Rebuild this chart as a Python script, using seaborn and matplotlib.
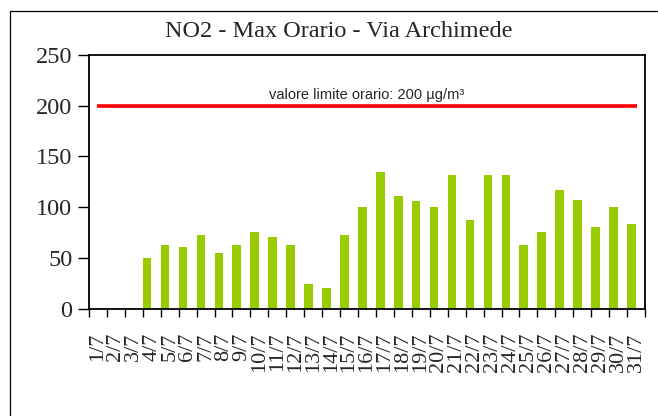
import matplotlib
matplotlib.use("Agg")
import matplotlib.pyplot as plt
from matplotlib.lines import Line2D
from matplotlib.ticker import FixedLocator
import seaborn as sns
import pandas as pd

# Daily hourly-maximum NO2 at Via Archimede (µg/m³), July
days = [f"{d}/7" for d in range(1, 32)]
no2_max = [0, 0, 0, 50, 63, 61, 72.5, 55, 63, 76, 70.5, 63, 24, 20.5, 72.5,
           100, 135, 111, 106, 100, 132, 87, 132, 132, 63, 76, 117, 107, 81, 100, 83]
limit_value = 200
limit_label = "valore limite orario: 200 µg/m³"
title = "NO2 - Max Orario - Via Archimede"
y_ticks = [0, 50, 100, 150, 200, 250]

sns.set_style("white")
plt.rcParams["font.family"] = ["Liberation Serif", "DejaVu Serif"]

W, H = 658, 416
fig = plt.figure(figsize=(W / 100, H / 100), dpi=100)
ax = fig.add_axes([89 / W, 1 - 308.7 / H, (645 - 89) / W, (308.7 - 55) / H])

df = pd.DataFrame({"giorno": days, "no2": no2_max})
BAR_W = 0.48
sns.barplot(data=df, x="giorno", y="no2", color="#99cc00", saturation=1,
            width=BAR_W, linewidth=0, ax=ax)
# bars sit on the left side of each category slot
for p in ax.patches:
    p.set_x(p.get_x() - (0.5 - BAR_W / 2))

# hourly limit line
ax.hlines(limit_value, -0.05, len(days) - 0.95, color="#ff0000", linewidth=2.6, zorder=3)
ax.text((len(days) - 1) / 2, 207, limit_label, ha="center", va="baseline",
        fontsize=10.5, family=["Liberation Sans", "DejaVu Sans"])

ax.set_xlim(-0.5, len(days) - 0.5)
ax.set_ylim(0, 250)
ax.set_yticks(y_ticks)
ax.set_xlabel("")
ax.set_ylabel("")

ax.set_xticks(range(len(days)))
ax.set_xticklabels(days, rotation=90)
ax.xaxis.set_minor_locator(FixedLocator([i - 0.5 for i in range(len(days) + 1)]))
ax.tick_params(axis="x", which="major", length=0, pad=17, labelsize=16)
ax.tick_params(axis="x", which="minor", length=6, width=1, direction="out",
               color="black", bottom=True)
ax.tick_params(axis="y", which="major", length=8, width=1, direction="out",
               color="black", left=True, labelsize=17.5, pad=4)
for s in ax.spines.values():
    s.set_visible(True)
    s.set_color("black")
    s.set_linewidth(1.3)

fig.text(339 / W, 1 - 37 / H, title, ha="center", va="baseline", fontsize=17.5)

# outer chart frame
fx, fy = 10 / W, 1 - 10.5 / H
fig.add_artist(Line2D([fx, fx], [0, fy], color="black", linewidth=0.9, transform=fig.transFigure))
fig.add_artist(Line2D([fx, 1], [fy, fy], color="black", linewidth=0.9, transform=fig.transFigure))

fig.savefig("out.png", dpi=100)
